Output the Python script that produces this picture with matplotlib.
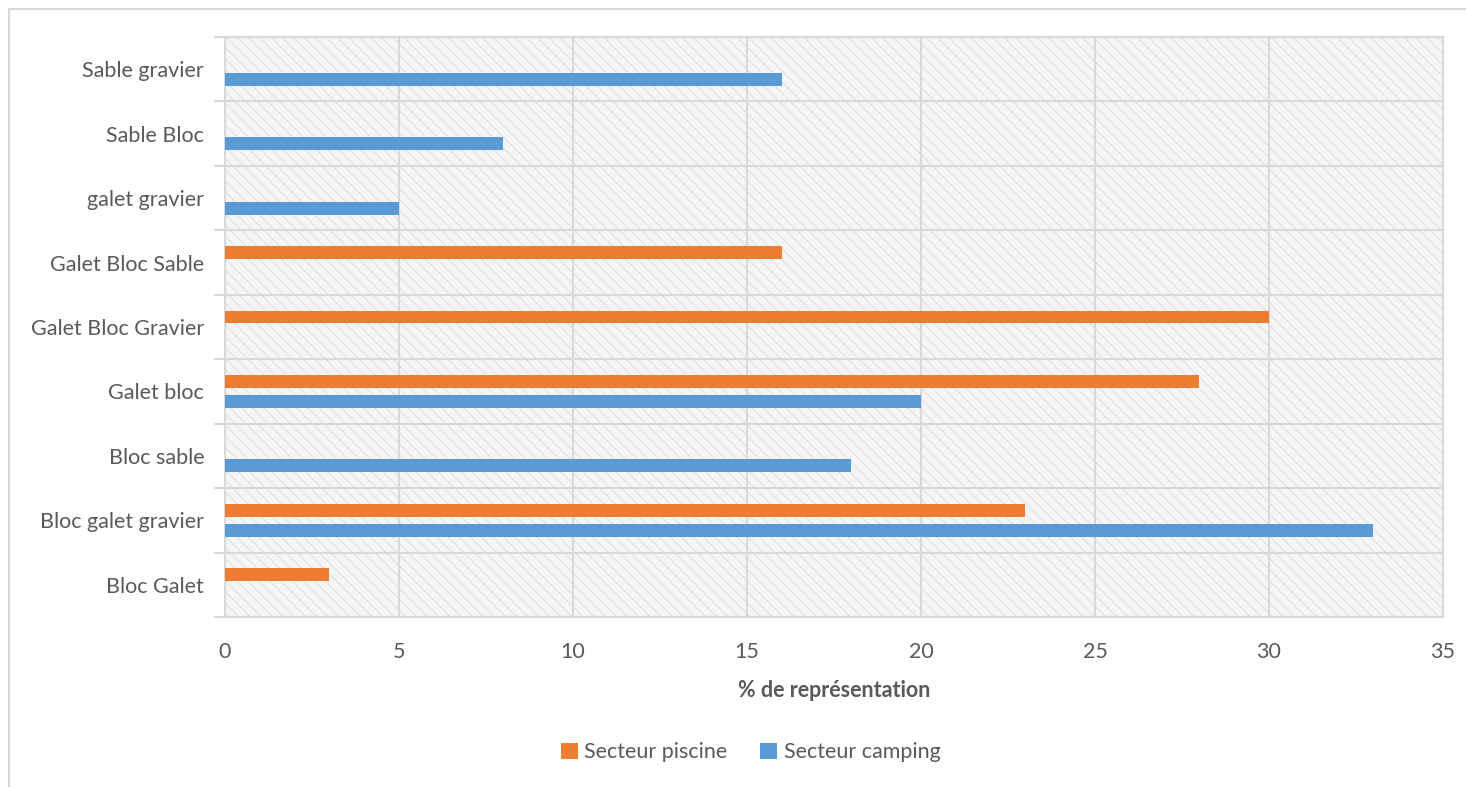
import numpy as np
import matplotlib
matplotlib.use('Agg')
import matplotlib.pyplot as plt
from matplotlib.patches import Rectangle

plt.rcParams['font.family'] = ['Lato', 'DejaVu Sans']
plt.rcParams['hatch.linewidth'] = 0.7

# Faciès granulométriques (de bas en haut)
categories = ['Bloc Galet', 'Bloc galet gravier', 'Bloc sable', 'Galet bloc',
              'Galet Bloc Gravier', 'Galet Bloc Sable', 'galet gravier',
              'Sable Bloc', 'Sable gravier']
piscine = [3, 23, 0, 28, 30, 16, 0, 0, 0]
camping = [0, 33, 18, 20, 0, 0, 5, 8, 16]
x_ticks = [0, 5, 10, 15, 20, 25, 30, 35]

orange = '#ed7d31'
bleu = '#5b9bd5'
gris = '#d9d9d9'
texte = '#595959'
fs = 15.5

fig = plt.figure(figsize=(14.66, 7.87), dpi=100)
ax = fig.add_axes([0.1535, 0.216, 0.8308, 0.737])

# fond hachuré de la zone de tracé
ax.add_patch(Rectangle((0, 0), 1, 1, transform=ax.transAxes, facecolor='#f5f5f5',
                       edgecolor='#dedede', hatch='\\\\\\', linewidth=0, zorder=0))

y = np.arange(len(categories))
h = 0.2
off = 0.155
ax.barh(y + off, piscine, height=h, color=orange, label='Secteur piscine', zorder=3)
ax.barh(y - off, camping, height=h, color=bleu, label='Secteur camping', zorder=3)

ax.set_xlim(0, 35)
ax.set_ylim(-0.5, len(categories) - 0.5)
ax.set_xticks(x_ticks)
ax.set_xticklabels([str(t) for t in x_ticks], fontsize=fs, color=texte)
ax.tick_params(axis='x', length=0, pad=18)

# traits de séparation entre catégories + libellés centrés
ax.set_yticks(np.arange(len(categories) + 1) - 0.5)
ax.set_yticklabels([])
ax.set_yticks(y, minor=True)
ax.set_yticklabels(categories, minor=True, fontsize=fs, color=texte)
ax.tick_params(axis='y', which='major', length=8, width=1.5, color=gris)
ax.tick_params(axis='y', which='minor', length=0, pad=15)

ax.grid(True, which='major', color=gris, linewidth=1.5, zorder=1)
ax.set_axisbelow(True)
for s in ax.spines.values():
    s.set_color(gris)
    s.set_linewidth(1.5)

ax.set_xlabel('% de représentation', fontsize=fs, fontweight='bold', color=texte,
              labelpad=13)

leg = fig.legend(loc='center', bbox_to_anchor=(0.512, 0.044), ncol=2, frameon=False,
                 fontsize=fs, handlelength=0.8, handleheight=0.8, handletextpad=0.3,
                 columnspacing=1.5)
for t in leg.get_texts():
    t.set_color(texte)

# cadre extérieur du graphique
fig.patches.append(Rectangle((9 / 1466, -0.1), 1.2, 1.1 - 9 / 787, transform=fig.transFigure,
                             fill=False, edgecolor=gris, linewidth=1.5, figure=fig))

fig.savefig('out.png', dpi=100)
